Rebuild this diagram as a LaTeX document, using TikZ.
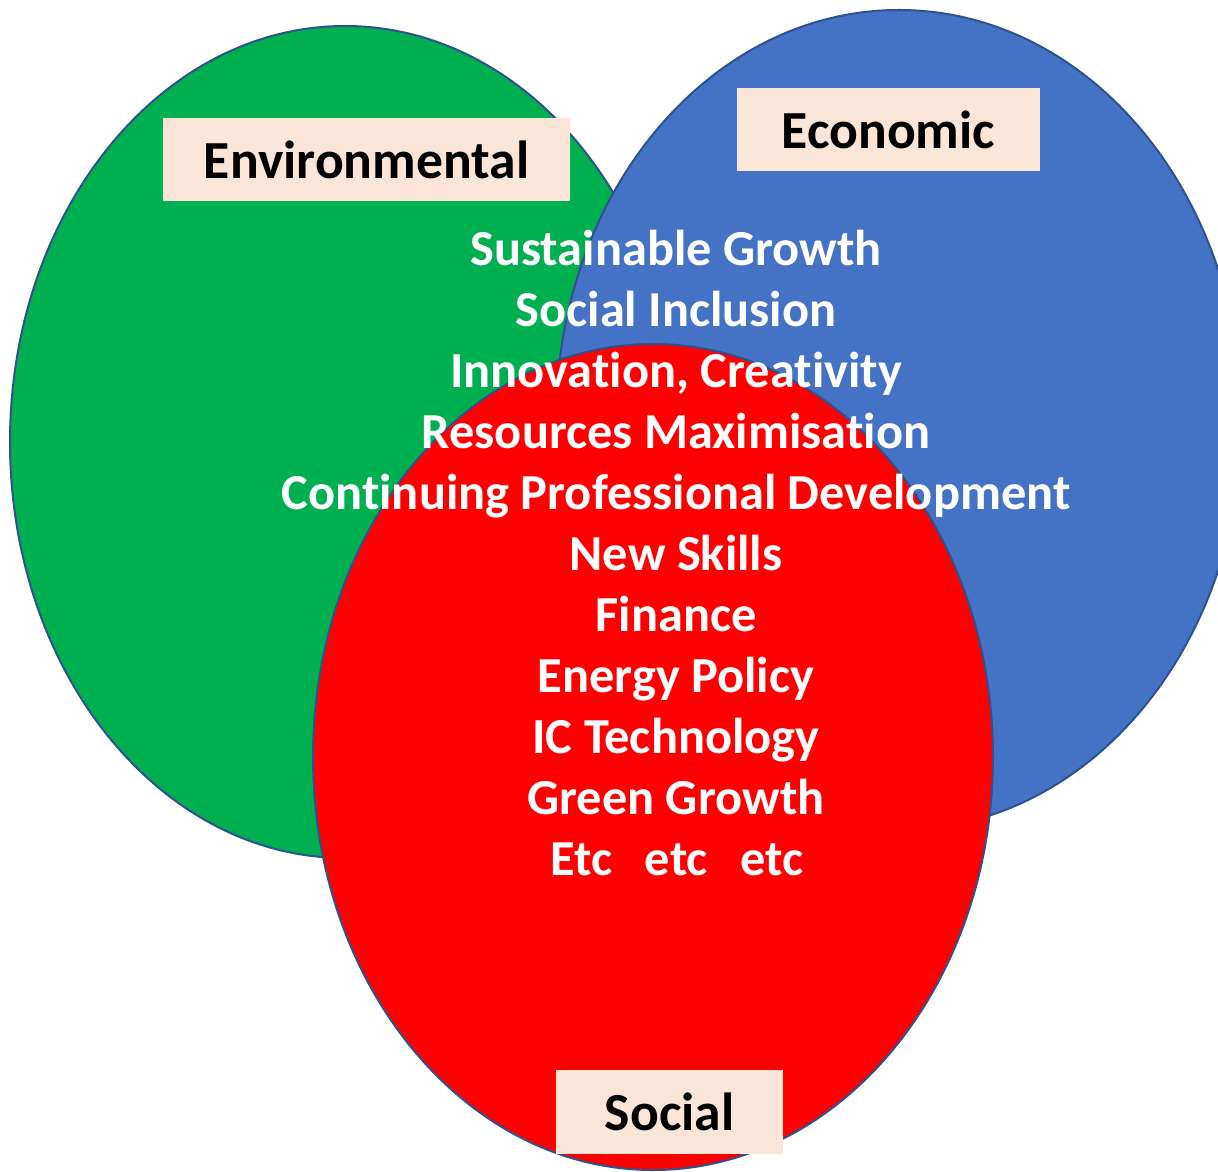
\documentclass[tikz,border=0pt]{standalone}
\usepackage{fontspec}
\setmainfont{Carlito}[RawFeature={-liga;-dlig;-clig;-calt}]
\definecolor{envgreen}{HTML}{00B050}
\definecolor{ecoblue}{HTML}{4472C4}
\definecolor{socred}{HTML}{FF0000}
\definecolor{rimblue}{HTML}{2F528F}
\definecolor{peach}{HTML}{FBE5D6}
\begin{document}
\begin{tikzpicture}[x=0.5pt,y=-0.5pt,
  blob/.style={draw=rimblue,line width=1pt},
  tag/.style={fill=peach,font=\bfseries\fontsize{26.8}{32}\selectfont,text=black,inner sep=0pt},
  item/.style={font=\bfseries\fontsize{25.2}{30}\selectfont,text=white,inner sep=0pt,anchor=base}]
\useasboundingbox (0,0) rectangle (1218,1171);
\clip (0,0) rectangle (1218,1171);
\fill[white] (0,0) rectangle (1218,1171);
\path[blob,fill=envgreen] (345,442) ellipse [x radius=167.5pt, y radius=208pt];
\path[blob,fill=ecoblue] (899,420) ellipse [x radius=171.5pt, y radius=205pt];
\path[blob,fill=socred] (653,757) ellipse [x radius=170pt, y radius=206.5pt];
\node[tag,minimum width=203.5pt,minimum height=41.5pt] (env) at (366.5,159.5) {Environmental};
\node[tag,minimum width=151.5pt,minimum height=41.5pt] (eco) at (888.5,129.5) {Economic};
\node[tag,minimum width=113.5pt,minimum height=42pt] (soc) at (669.5,1112) {Social};
\node[item] (l1) at (676,265) {Sustainable Growth};
\node[item] (l2) at (676,326) {Social Inclusion};
\node[item] (l3) at (676,387) {Innovat\kern0pt ion, Creat\kern0pt ivity};
\node[item] (l4) at (676,448) {Resources Maximisat\kern0pt ion};
\node[item] (l5) at (676,509) {Cont\kern0pt inuing Professional Development};
\node[item] (l6) at (676,570) {New Skills};
\node[item] (l7) at (676,631) {Finance};
\node[item] (l8) at (676,692) {Energy Policy};
\node[item] (l9) at (676,753) {IC Technology};
\node[item] (l10) at (676,814) {Green Growth};
\node[item] (l11) at (677,875) {Etc\hspace{0.65em}etc\hspace{0.65em}etc};
\end{tikzpicture}
\end{document}
